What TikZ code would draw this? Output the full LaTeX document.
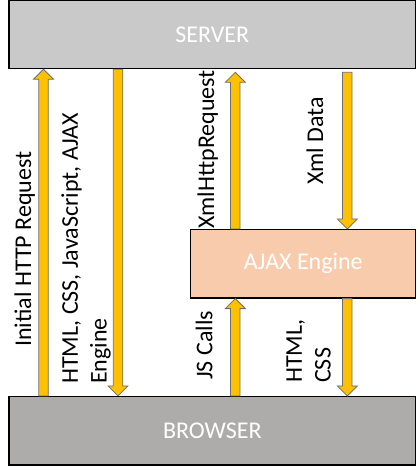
\documentclass[tikz,border=0pt]{standalone}
\usepackage{fontspec}
\setmainfont{Carlito}
\usetikzlibrary{calc}
\definecolor{servergray}{HTML}{C9C9C9}
\definecolor{browsergray}{HTML}{AEABAB}
\definecolor{ajaxpeach}{HTML}{F8CBAD}
\definecolor{arrowgold}{HTML}{FFC000}
\definecolor{arrowedge}{HTML}{6E6E6E}
\newcommand\fatarrow[2]{%
  \coordinate (fa-h) at ($(#2)!10pt!(#1)$);
  \draw[fatarrowstyle] ($(#1)!4.75pt!90:(#2)$) -- ($(fa-h)!4.75pt!-90:(#1)$) -- ($(fa-h)!10pt!-90:(#1)$) -- (#2) -- ($(fa-h)!10pt!90:(#1)$) -- ($(fa-h)!4.75pt!90:(#1)$) -- ($(#1)!4.75pt!-90:(#2)$) -- cycle;
}
\begin{document}
\begin{tikzpicture}[x=1pt,y=-1pt,
  box/.style={draw=black, line width=1.2pt, rectangle, inner sep=0pt, text=white,
    font=\fontsize{24}{28.8}\selectfont},
  fatarrowstyle/.style={fill=arrowgold, draw=arrowedge, line width=0.8pt, line join=miter},
  lbl/.style={rotate=90, anchor=base west, inner sep=0pt, align=left,
    font=\fontsize{24}{28.8}\selectfont}]
\useasboundingbox (0,0) rectangle (417,466);
% boxes
\node[box, fill=servergray, minimum width=406.9pt, minimum height=68pt] (server) at (212.35,34.7) {SERVER};
\node[box, fill=browsergray, minimum width=406.9pt, minimum height=68.5pt] (browser) at (212.35,430.75) {BROWSER};
\node[box, fill=ajaxpeach, minimum width=225.1pt, minimum height=68.5pt] (ajax) at (303.25,263.75) {AJAX Engine};
% columns
\coordinate (c1) at (43.5,0);
\coordinate (c2) at (118,0);
\coordinate (c3) at (235.3,0);
\coordinate (c4) at (347.3,0);
% arrow end points
\coordinate (a1s) at (browser.north -| c1);
\coordinate (a1t) at (server.south -| c1);
\coordinate (a2s) at (server.south -| c2);
\coordinate (a2t) at (browser.north -| c2);
\coordinate (a3s) at (ajax.north -| c3);
\coordinate (a3t) at ($(server.south -| c3)+(0,3)$);
\coordinate (a4s) at ($(server.south -| c4)+(0,3)$);
\coordinate (a4t) at (ajax.north -| c4);
\coordinate (a5s) at (browser.north -| c3);
\coordinate (a5t) at (ajax.south -| c3);
\coordinate (a6s) at (ajax.south -| c4);
\coordinate (a6t) at (browser.north -| c4);
\fatarrow{a1s}{a1t}
\fatarrow{a2s}{a2t}
\fatarrow{a3s}{a3t}
\fatarrow{a4s}{a4t}
\fatarrow{a5s}{a5t}
\fatarrow{a6s}{a6t}
% labels
\node[lbl] (l1) at (31,347) {Initial HTTP Request};
\node[lbl] (l2) at (106.7,384) {HTML, CSS, JavaScript, AJAX\\Engine};
\node[lbl] (l3) at (214,229) {XmlHttpRequest};
\node[lbl] (l4) at (323,185) {Xml Data};
\node[lbl] (l5) at (212.3,380) {JS Calls};
\node[lbl] (l6) at (330.7,383) {HTML,\\CSS};
\end{tikzpicture}
\end{document}
